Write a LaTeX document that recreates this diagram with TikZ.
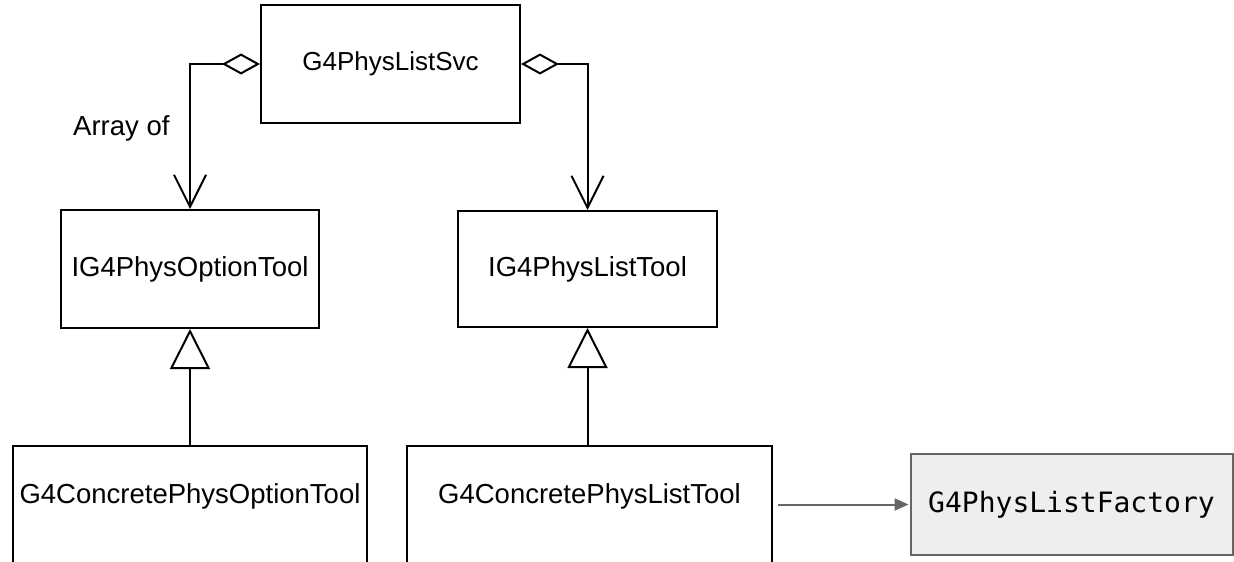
\documentclass[tikz,border=0pt]{standalone}
\usepackage{fontspec}
\setmainfont{Liberation Sans}
\newfontfamily\monofont{DejaVu Sans Mono}
\usetikzlibrary{arrows.meta}
\definecolor{facfill}{HTML}{EEEEEE}
\definecolor{facdraw}{HTML}{666666}
\begin{document}
\begin{tikzpicture}[x=1pt,y=-1pt,
  umlbox/.style={draw=black, line width=2pt, fill=white, inner sep=0pt,
    font=\fontsize{27.5}{32}\selectfont, text=black},
  lowbox/.style={umlbox, anchor=north, text height=57pt, text depth=73pt},
  aggr/.style={draw=black, line width=2pt,
    {Diamond[open, length=38pt, width=21pt, line width=2pt]}-{Straight Barb[length=32pt, width=32pt, line width=2pt]}},
  inherit/.style={draw=black, line width=2pt,
    -{Triangle[open, length=40pt, width=40pt, line width=2pt, fill=white]}},
  uses/.style={draw=facdraw, line width=2pt, -{Triangle[length=14pt, width=12pt]}},
  facbox/.style={draw=facdraw, line width=2pt, fill=facfill, inner sep=0pt,
    font=\monofont\fontsize{28}{32}\selectfont, text=black},
  lbl/.style={font=\fontsize{27.5}{32}\selectfont, text=black, inner sep=0pt}]
\clip (0,0) rectangle (1234,562);
\fill[white] (0,0) rectangle (1234,562);

\node[umlbox, minimum width=259pt, minimum height=118pt, font=\fontsize{26}{30}\selectfont] (svc) at (390.5,64) {G4PhysListSvc};
\node[umlbox, minimum width=258pt, minimum height=118pt] (opt) at (190,269) {IG4PhysOptionTool};
\node[umlbox, minimum width=259pt, minimum height=116pt] (lst) at (587.5,269) {IG4PhysListTool};
\node[lowbox, minimum width=354pt] (copt) at (190,445) {G4ConcretePhysOptionTool};
\node[lowbox, minimum width=365pt] (clst) at (589.5,445) {G4ConcretePhysListTool};
\node[facbox, minimum width=322pt, minimum height=101pt] (fac) at (1071.5,504.5) {G4PhysListFactory};

\node[lbl, anchor=base west] (arr) at (73,135) {Array of};

\draw[aggr] (svc.west) -| (opt.north);
\draw[aggr] (svc.east) -| (lst.north);
\draw[inherit] (copt.north) -- (opt.south);
\draw[inherit] (clst.north -| lst.south) -- (lst.south);
\draw[uses, shorten <=5pt, shorten >=1pt] (fac.west -| clst.east) -- (fac.west);
\end{tikzpicture}
\end{document}
